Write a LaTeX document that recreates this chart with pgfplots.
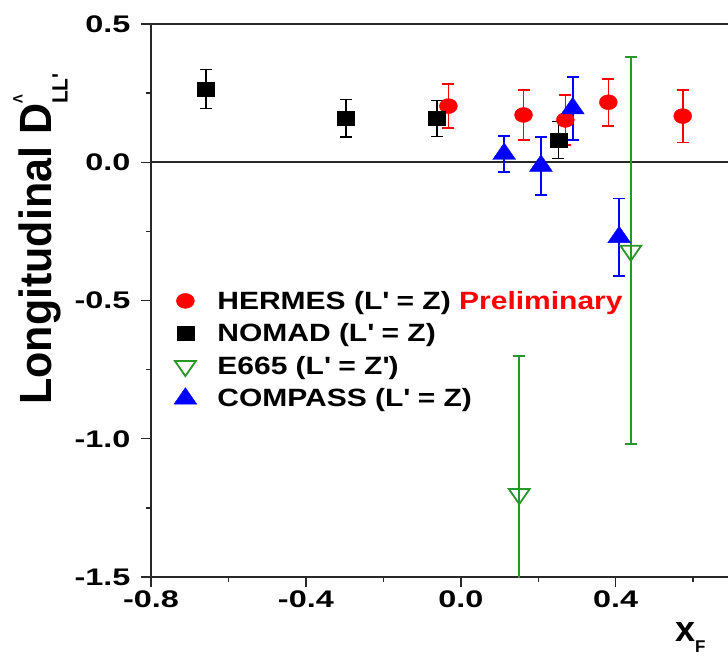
\documentclass[border=0pt]{standalone}
\usepackage{pgfplots}
\pgfplotsset{compat=1.18}
\usepackage{fontspec}
\setmainfont{Liberation Sans}
\newfontfamily\tickfont{Liberation Sans}[FakeStretch=1.35]
\newfontfamily\legfont{Liberation Sans}[FakeStretch=1.2]
\definecolor{egreen}{RGB}{40,150,40}
\definecolor{axgray}{RGB}{40,40,40}
\pgfplotsset{
  eb/.style={error bars/.cd, y dir=both, y explicit,
    error bar style={line width=1.6bp},
    error mark options={rotate=90, mark size=6bp, line width=1.6bp}},
}
\begin{document}
\begin{tikzpicture}
\begin{axis}[
  name=ax, at={(0,0)}, anchor=south west,
  scale only axis, width=577bp, height=553bp,
  xmin=-0.8, xmax=0.69, ymin=-1.5, ymax=0.5,
  axis x line*=bottom, axis y line*=left,
  axis line style={line width=1.6bp, axgray},
  xtick={-0.8,-0.4,0,0.4}, xticklabels={-0.8,-0.4,0.0,0.4},
  minor xtick={-0.6,-0.2,0.2,0.6},
  ytick={-1.5,-1,-0.5,0,0.5}, yticklabels={-1.5,-1.0,-0.5,0.0,0.5},
  minor ytick={-1.25,-0.75,-0.25,0.25},
  tick align=outside,
  major tick length=10bp, minor tick length=5bp,
  every tick/.style={line width=1.4bp, axgray},
  tick label style={font=\tickfont\bfseries\fontsize{24bp}{28bp}\selectfont},
  yticklabel style={xshift=-7bp},
  xlabel={x\raisebox{-11bp}{\fontsize{17bp}{17bp}\selectfont F}},
  xlabel style={font=\bfseries\fontsize{36bp}{40bp}\selectfont,
    at={(axis description cs:0.908,-0.1175)}, anchor=base west, inner sep=0pt},
  ylabel={Longitudinal D\rlap{\raisebox{28bp}{\fontsize{13bp}{13bp}\selectfont Λ}}\raisebox{-15bp}{\fontsize{21bp}{21bp}\selectfont LL\textquotesingle}},
  ylabel style={font=\bfseries\fontsize{43bp}{47bp}\selectfont,
    at={(axis description cs:-0.1716,0.311)}, anchor=base west, inner sep=0pt, yscale=1.05},
  legend style={at={(axis description cs:0.035,0.521)}, anchor=north west,
    draw=none, fill=none, inner sep=0pt, row sep=9bp,
    font=\legfont\bfseries\fontsize{25bp}{30bp}\selectfont},
  legend cell align=left,
  legend image code/.code={\path[draw=none,fill=none] (0bp,0bp) -- (44bp,0bp);
    \draw[#1] plot coordinates {(14bp,0bp)};},
]
% reference line at zero
\draw[line width=1.6bp, axgray] (axis cs:-0.8,0) -- (axis cs:0.69,0);

\addplot[only marks, red, mark=*, mark size=7.5bp, mark options={xscale=1.2}, eb]
  coordinates {
    (-0.032, 0.203) +- (0, 0.079)
    ( 0.162, 0.171) +- (0, 0.090)
    ( 0.270, 0.153) +- (0, 0.090)
    ( 0.381, 0.217) +- (0, 0.085)
    ( 0.573, 0.167) +- (0, 0.095)
  };
\addlegendentry{HERMES (L\textquotesingle{} = Z) \textcolor{red}{Preliminary}}

\addplot[only marks, black, mark=square*, mark size=7bp, mark options={xscale=1.2}, eb]
  coordinates {
    (-0.658, 0.265) +- (0, 0.071)
    (-0.297, 0.159) +- (0, 0.068)
    (-0.062, 0.158) +- (0, 0.065)
    ( 0.252, 0.080) +- (0, 0.067)
  };
\addlegendentry{NOMAD (L\textquotesingle{} = Z)}

\addplot[only marks, egreen, mark=triangle, mark size=10bp, mark options={xscale=1.2, rotate=180, line width=1.8bp}, eb]
  coordinates {
    (0.151, -1.20) +- (0, 0.50)
    (0.439, -0.32) +- (0, 0.70)
  };
\addlegendentry{E665 (L\textquotesingle{} = Z\textquotesingle)}

\addplot[only marks, blue, mark=triangle*, mark size=11bp, mark options={xscale=1.2}, eb]
  coordinates {
    (0.112,  0.030) +- (0, 0.066)
    (0.207, -0.013) +- (0, 0.105)
    (0.289,  0.195) +- (0, 0.114)
    (0.409, -0.271) +- (0, 0.140)
  };
\addlegendentry{COMPASS (L\textquotesingle{} = Z)}
\end{axis}
% upper frame line
\draw[line width=1.6bp, axgray] (ax.north west) -- (ax.north east);
\pgfresetboundingbox
\path[use as bounding box] (-151bp,-80bp) rectangle (577bp,577bp);
\end{tikzpicture}
\end{document}
